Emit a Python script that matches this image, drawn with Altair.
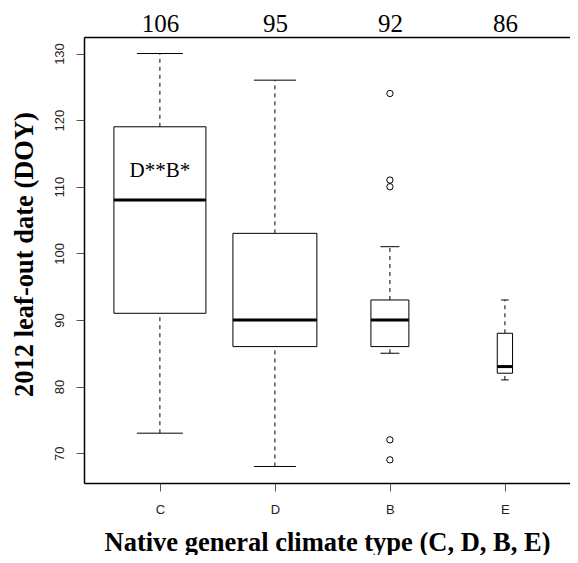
import altair as alt
import pandas as pd

# ---------------- data ----------------
categories = ["C", "D", "B", "E"]
group_labels = ["106", "95", "92", "86"]
whisker_low = [73, 68, 85, 81]
box_q1 = [91, 86, 86, 82]
box_median = [108, 90, 90, 83]
box_q3 = [119, 103, 93, 88]
whisker_high = [130, 126, 101, 93]
outlier_group = ["B", "B", "B", "B", "B"]
outlier_value = [124, 111, 110, 72, 69]
note_group = ["C"]
note_text = ["D**B*"]
note_value = [111.4]
y_ticks = [70, 80, 90, 100, 110, 120, 130]
x_title = "Native general climate type (C, D, B, E)"
y_title = "2012 leaf-out date (DOY)"

# ---------------- style ----------------
box_widths = [0.8, 0.73, 0.33, 0.133]
W, H = 486, 446
X_DOMAIN = [0.34, 4.566]
Y_DOMAIN = [65.52, 132.48]
SERIF = "Liberation Serif"
SANS = "Liberation Sans"

positions = list(range(1, len(categories) + 1))
pos_of = dict(zip(categories, positions))

boxes = pd.DataFrame({
    "group": categories, "pos": positions, "lo": whisker_low, "q1": box_q1,
    "med": box_median, "q3": box_q3, "hi": whisker_high, "bw": box_widths,
})
boxes["left"] = boxes["pos"] - boxes["bw"] / 2
boxes["right"] = boxes["pos"] + boxes["bw"] / 2
boxes["cap_l"] = boxes["pos"] - boxes["bw"] / 4
boxes["cap_r"] = boxes["pos"] + boxes["bw"] / 4

outliers = pd.DataFrame({"group": outlier_group, "value": outlier_value})
outliers["pos"] = outliers["group"].map(pos_of)
notes = pd.DataFrame({"group": note_group, "text": note_text, "value": note_value})
notes["pos"] = notes["group"].map(pos_of)

xs = alt.Scale(domain=X_DOMAIN, nice=False, zero=False)
ys = alt.Scale(domain=Y_DOMAIN, nice=False, zero=False)


def js_list(items):
    return "[" + ",".join("'%s'" % s for s in items) + "]"


bottom_expr = js_list([""] + categories) + "[datum.value]"
top_expr = js_list([""] + group_labels) + "[datum.value]"

x_bottom = alt.Axis(
    orient="bottom", values=positions, labelExpr=bottom_expr, title=x_title,
    tickSize=8, labelPadding=12, labelBaseline="top", labelAlign="center",
    labelFont=SANS, labelFontSize=13, labelColor="#222", tickColor="#555",
    domainColor="black", domainWidth=1.5,
    titleFont=SERIF, titleFontSize=26.5, titleFontWeight="bold", titleColor="black",
    titleX=243, titleY=67, titleBaseline="alphabetic", titleAlign="center",
    grid=False,
)
x_top = alt.Axis(
    orient="top", values=positions, labelExpr=top_expr, title=None,
    ticks=False, tickSize=0, labelPadding=6, labelBaseline="alphabetic",
    labelAlign="center", labelFont=SERIF, labelFontSize=25, labelColor="black",
    domainColor="black", domainWidth=1.5, grid=False,
)
y_axis = alt.Axis(
    values=y_ticks, title=y_title, tickSize=8, labelPadding=10,
    labelAngle=270, labelAlign="center", labelBaseline="bottom",
    labelFont=SANS, labelFontSize=13, labelColor="#222", tickColor="#555",
    domainColor="black", domainWidth=1.5,
    titleFont=SERIF, titleFontSize=26.5, titleFontWeight="bold", titleColor="black",
    titleAngle=270, titleX=-52, titleY=217, titleBaseline="alphabetic",
    titleAlign="center", grid=False,
)

base = alt.Chart(boxes)

whisk_lo = base.mark_rule(color="black", strokeWidth=1, strokeDash=[4, 4]).encode(
    x=alt.X("pos:Q", scale=xs, axis=None),
    y=alt.Y("lo:Q", scale=ys, axis=y_axis), y2="q1:Q")
whisk_hi = base.mark_rule(color="black", strokeWidth=1, strokeDash=[4, 4]).encode(
    x=alt.X("pos:Q", scale=xs, axis=None),
    y=alt.Y("q3:Q", scale=ys, axis=y_axis), y2="hi:Q")
rects = base.mark_rect(fill="white", stroke="black", strokeWidth=1).encode(
    x=alt.X("left:Q", scale=xs, axis=x_bottom), x2="right:Q",
    y=alt.Y("q1:Q", scale=ys, axis=y_axis), y2="q3:Q")
medians = base.mark_rule(color="black", strokeWidth=3).encode(
    x=alt.X("left:Q", scale=xs, axis=None), x2="right:Q",
    y=alt.Y("med:Q", scale=ys, axis=y_axis))
caps_lo = base.mark_rule(color="black", strokeWidth=1).encode(
    x=alt.X("cap_l:Q", scale=xs, axis=x_top), x2="cap_r:Q",
    y=alt.Y("lo:Q", scale=ys, axis=y_axis))
caps_hi = base.mark_rule(color="black", strokeWidth=1).encode(
    x=alt.X("cap_l:Q", scale=xs, axis=None), x2="cap_r:Q",
    y=alt.Y("hi:Q", scale=ys, axis=y_axis))
pts = alt.Chart(outliers).mark_point(shape="circle", filled=False, color="black",
                                      size=40, strokeWidth=1, opacity=1).encode(
    x=alt.X("pos:Q", scale=xs, axis=None),
    y=alt.Y("value:Q", scale=ys, axis=y_axis))
txt = alt.Chart(notes).mark_text(font=SERIF, fontSize=21, color="black",
                                 baseline="alphabetic", align="center").encode(
    x=alt.X("pos:Q", scale=xs, axis=None),
    y=alt.Y("value:Q", scale=ys, axis=y_axis),
    text="text:N")

chart = alt.layer(whisk_lo, whisk_hi, rects, medians, caps_lo, caps_hi, pts, txt).resolve_axis(
    x="independent"
).properties(
    width=W, height=H,
    padding={"left": 76, "top": 29, "right": 0, "bottom": 72},
    autosize=alt.AutoSizeParams(type="none"),
    background="white",
).configure_view(stroke=None)

chart.save("out.html", embed_options={"renderer": "svg", "actions": False})
